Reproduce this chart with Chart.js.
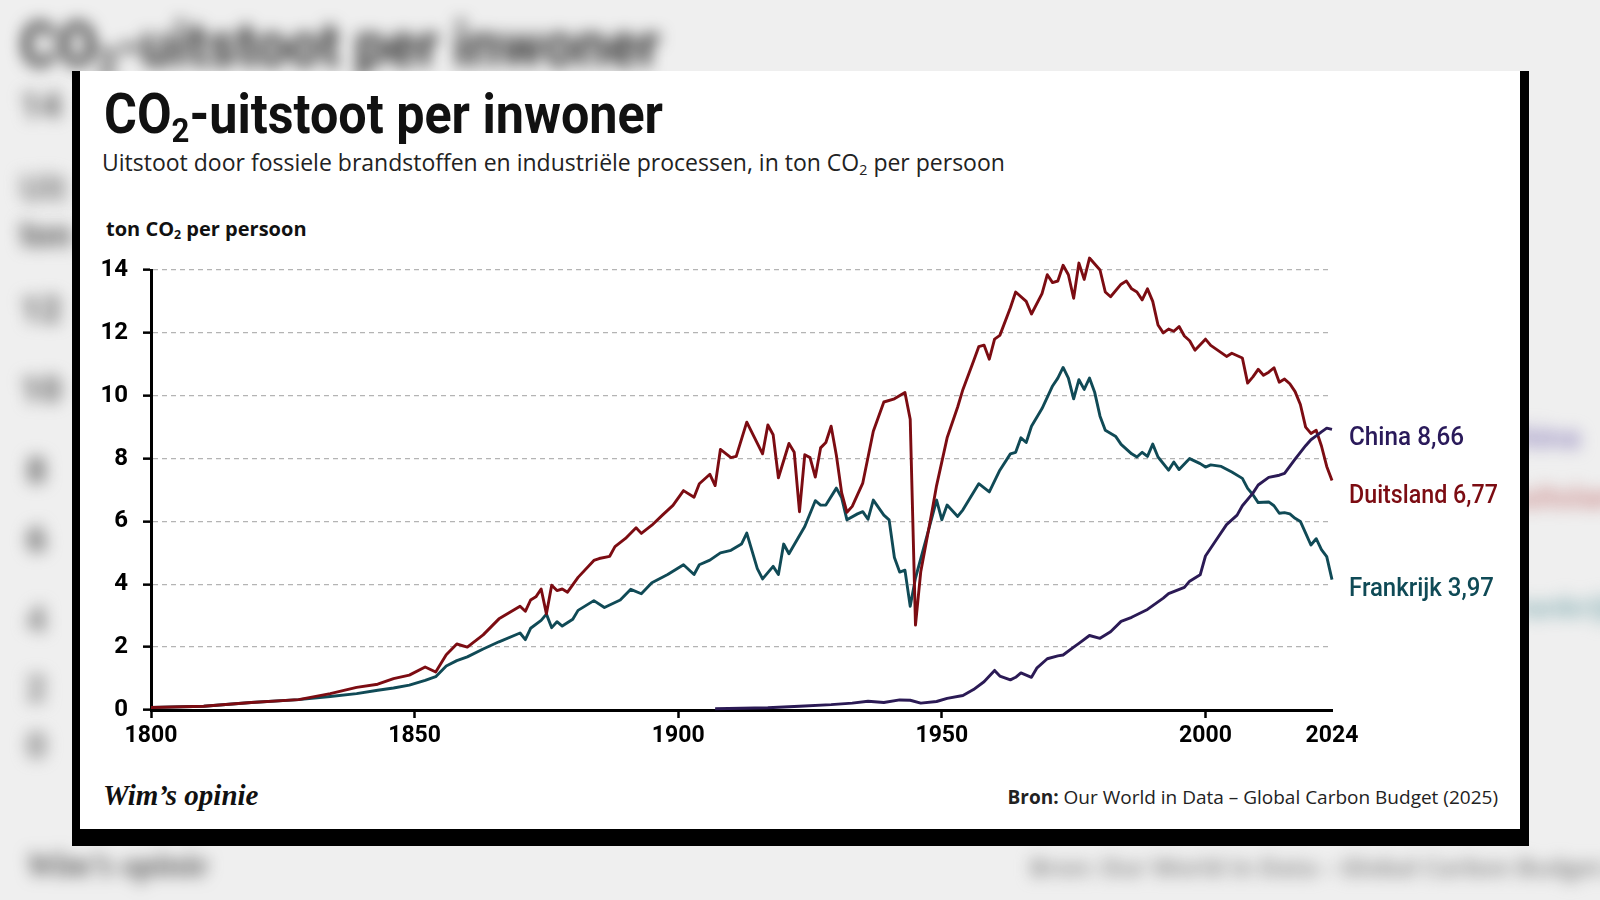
<!DOCTYPE html>
<html lang="nl">
<head>
<meta charset="utf-8">
<title>CO2-uitstoot per inwoner</title>
<script src="https://cdn.jsdelivr.net/npm/chart.js@4.4.1/dist/chart.umd.min.js"></script>
<style>
  html, body { margin: 0; padding: 0; }
  body {
    width: 1600px;
    height: 900px;
    position: relative;
    overflow: hidden;
    background: #efefef;
    font-family: "Open Sans", sans-serif;
    color: #111;
  }
  .blur { position: absolute; white-space: nowrap; filter: blur(8px); }
  .side { font-family: Roboto, sans-serif; font-weight: 900; font-size: 36px; line-height: 36px; color: #6f6f6f; left: 20px; }
  .card {
    position: absolute;
    left: 72px;
    top: 71px;
    width: 1440px;
    height: 758px;
    background: #fff;
    border-left: 8px solid #000;
    border-right: 9px solid #000;
    border-bottom: 17px solid #000;
  }
  .txt { position: absolute; white-space: nowrap; }
  .cond { font-family: Roboto, sans-serif; transform-origin: left top; }
  #title { left: 104px; top: 87px; font-size: 55px; line-height: 55px; font-weight: bold; }
  #title sub, #bgTitle sub, #axisTitle sub, #subtitle sub { font-size: 62%; vertical-align: -0.25em; line-height: 0; }
  #subtitle { left: 102px; top: 151px; font-size: 23px; line-height: 23px; color: #222; }
  #axisTitle { left: 106px; top: 219px; font-size: 20px; line-height: 20px; font-weight: 700; }
  .endLabel { font-family: Roboto, sans-serif; font-weight: 500; font-size: 25px; line-height: 25px; left: 1349px; transform-origin: left top; }
  #lblChina { top: 424px; color: #2a1a5a; }
  #lblGermany { top: 482px; color: #7c0c12; }
  #lblFrance { top: 575px; color: #0f4a56; }
  #brand { left: 103px; top: 781px; font-family: "Liberation Serif", serif; font-style: italic; font-weight: bold; font-size: 29px; line-height: 29px; }
  #source { right: 102px; top: 788px; font-size: 19px; line-height: 19px; color: #222; }
  #chartBox { position: absolute; left: 80px; top: 240px; width: 1292px; height: 530px; }
</style>
</head>
<body>

<!-- blurred backdrop: an enlarged, out-of-focus copy of the same graphic -->
<div id="bgTitle" class="blur cond" style="left:20px; top:14px; font-size:62px; line-height:62px; font-weight:bold; color:#333;">CO<sub>2</sub>-uitstoot per inwoner</div>
<div class="blur side" style="top:88px;">14</div>
<div class="blur side" style="top:171px; color:#8c8c8c;">Uit</div>
<div class="blur side" style="top:217px;">ton</div>
<div class="blur side" style="top:292px;">12</div>
<div class="blur side" style="top:372px;">10</div>
<div class="blur side" style="top:453px; left:26px;">8</div>
<div class="blur side" style="top:522px; left:26px;">6</div>
<div class="blur side" style="top:602px; left:26px; color:#858585;">4</div>
<div class="blur side" style="top:671px; left:26px; color:#858585;">2</div>
<div class="blur side" style="top:728px; left:26px; color:#858585;">0</div>
<div class="blur cond" style="left:1498px; top:418px; font-size:32px; font-weight:bold; color:#9a90c2;">China</div>
<div class="blur cond" style="left:1498px; top:478px; font-size:32px; font-weight:bold; color:#cf9696;">Duitsland</div>
<div class="blur cond" style="left:1498px; top:588px; font-size:32px; font-weight:bold; color:#96b9bd;">Frankrijk</div>
<div class="blur" style="left:26px; top:846px; font-family:'Liberation Serif',serif; font-style:italic; font-weight:bold; font-size:34px; color:#555;">Wim’s opinie</div>
<div class="blur" style="left:1030px; top:850px; font-size:24px; font-weight:700; color:#8e8e8e;">Bron: Our World in Data – Global Carbon Budget (2025)</div>

<div class="card"></div>

<div id="title" class="txt cond">CO<sub>2</sub>-uitstoot per inwoner</div>
<div id="subtitle" class="txt">Uitstoot door fossiele brandstoffen en industriële processen, in ton CO<sub>2</sub> per persoon</div>
<div id="axisTitle" class="txt">ton CO<sub>2</sub> per persoon</div>

<div id="chartBox"><canvas id="co2Chart"></canvas></div>

<div id="lblChina" class="txt endLabel">China 8,66</div>
<div id="lblGermany" class="txt endLabel">Duitsland 6,77</div>
<div id="lblFrance" class="txt endLabel">Frankrijk 3,97</div>

<div id="brand" class="txt">Wim’s opinie</div>
<div id="source" class="txt"><b>Bron:</b> Our World in Data – Global Carbon Budget (2025)</div>

<script>
// ====================================
// DATA (ton CO2 per persoon)
// ====================================
const germanyYears = [
  1800, 1810, 1819, 1828, 1834, 1839, 1843, 1846, 1849, 1852,
  1854, 1856, 1858, 1860, 1863, 1866, 1870, 1871, 1872, 1873,
  1874, 1875, 1876, 1877, 1878, 1879, 1881, 1884, 1885, 1887,
  1888, 1890, 1892, 1893, 1895, 1897, 1899, 1901, 1903, 1904,
  1906, 1907, 1908, 1910, 1911, 1913, 1916, 1917, 1918, 1919,
  1921, 1922, 1923, 1924, 1925, 1926, 1927, 1928, 1929, 1930,
  1931, 1932, 1933, 1935, 1937, 1939, 1941, 1943, 1944, 1945,
  1946, 1948, 1949, 1951, 1953, 1954, 1956, 1957, 1958, 1959,
  1960, 1961, 1963, 1964, 1966, 1967, 1969, 1970, 1971, 1972,
  1973, 1974, 1975, 1976, 1977, 1978, 1980, 1981, 1982, 1984,
  1985, 1986, 1987, 1988, 1989, 1990, 1991, 1992, 1993, 1994,
  1995, 1996, 1997, 1998, 2000, 2001, 2004, 2005, 2007, 2008,
  2009, 2010, 2011, 2012, 2013, 2014, 2015, 2016, 2017, 2018,
  2019, 2020, 2021, 2022, 2023, 2024
];
const germanyValues = [
  0.08, 0.12, 0.24, 0.33, 0.52, 0.72, 0.82, 1.0, 1.11, 1.37,
  1.21, 1.76, 2.1, 2.0, 2.39, 2.9, 3.3, 3.14, 3.5, 3.6,
  3.85, 3.06, 3.97, 3.8, 3.85, 3.75, 4.22, 4.76, 4.82, 4.89,
  5.2, 5.46, 5.8, 5.62, 5.88, 6.2, 6.51, 6.98, 6.77, 7.2,
  7.5, 7.14, 8.29, 8.03, 8.07, 9.16, 8.15, 9.07, 8.76, 7.39,
  8.48, 8.2, 6.31, 8.12, 8.03, 7.41, 8.34, 8.51, 9.03, 8.1,
  6.91, 6.29, 6.48, 7.22, 8.87, 9.8, 9.9, 10.1, 9.25, 2.7,
  4.4, 6.2, 7.14, 8.66, 9.64, 10.2, 11.1, 11.56, 11.61, 11.16,
  11.8, 11.92, 12.8, 13.3, 13.0, 12.6, 13.25, 13.85, 13.6, 13.65,
  14.15, 13.85, 13.1, 14.22, 13.7, 14.38, 14.0, 13.3, 13.15, 13.55,
  13.65, 13.4, 13.3, 13.05, 13.4, 13.0, 12.25, 12.0, 12.12, 12.05,
  12.2, 11.9, 11.75, 11.45, 11.8, 11.6, 11.25, 11.35, 11.2, 10.4,
  10.6, 10.84, 10.65, 10.75, 10.89, 10.43, 10.53, 10.38, 10.13, 9.72,
  9.0, 8.8, 8.9, 8.4, 7.75, 7.3
];

const franceYears = [
  1800, 1810, 1819, 1828, 1834, 1839, 1843, 1846, 1849, 1852,
  1854, 1856, 1858, 1860, 1863, 1866, 1870, 1871, 1872, 1874,
  1875, 1876, 1877, 1878, 1880, 1881, 1884, 1886, 1889, 1891,
  1893, 1895, 1898, 1901, 1903, 1904, 1906, 1908, 1910, 1912,
  1913, 1915, 1916, 1918, 1919, 1920, 1921, 1924, 1926, 1927,
  1928, 1930, 1931, 1932, 1934, 1935, 1936, 1937, 1939, 1940,
  1941, 1942, 1943, 1944, 1945, 1947, 1948, 1949, 1950, 1951,
  1953, 1954, 1957, 1959, 1961, 1963, 1964, 1965, 1966, 1967,
  1969, 1971, 1972, 1973, 1974, 1975, 1976, 1977, 1978, 1979,
  1980, 1981, 1983, 1984, 1986, 1987, 1988, 1989, 1990, 1991,
  1993, 1994, 1995, 1997, 1999, 2000, 2001, 2003, 2005, 2007,
  2008, 2009, 2010, 2012, 2013, 2014, 2015, 2016, 2017, 2018,
  2019, 2020, 2021, 2022, 2023, 2024
];
const franceValues = [
  0.08, 0.12, 0.24, 0.33, 0.43, 0.52, 0.63, 0.7, 0.79, 0.94,
  1.06, 1.4, 1.57, 1.69, 1.94, 2.17, 2.45, 2.24, 2.6, 2.85,
  3.05, 2.62, 2.81, 2.67, 2.89, 3.17, 3.48, 3.26, 3.5, 3.84,
  3.7, 4.05, 4.31, 4.62, 4.31, 4.62, 4.77, 5.0, 5.08, 5.28,
  5.63, 4.5, 4.17, 4.57, 4.31, 5.28, 4.97, 5.84, 6.66, 6.52,
  6.52, 7.06, 6.75, 6.05, 6.24, 6.31, 6.07, 6.68, 6.2, 6.05,
  4.85, 4.39, 4.45, 3.3, 4.2, 5.43, 6.05, 6.68, 6.05, 6.52,
  6.16, 6.37, 7.2, 6.94, 7.63, 8.15, 8.2, 8.66, 8.51, 9.03,
  9.59, 10.31, 10.56, 10.9, 10.56, 9.9, 10.51, 10.2, 10.56, 10.1,
  9.35, 8.9, 8.7, 8.45, 8.15, 8.05, 8.2, 8.07, 8.46, 8.05,
  7.63, 7.89, 7.65, 8.0, 7.84, 7.73, 7.8, 7.75, 7.57, 7.37,
  7.05, 6.85, 6.6, 6.62, 6.5, 6.26, 6.28, 6.24, 6.1, 6.0,
  5.63, 5.25, 5.45, 5.1, 4.88, 4.15
];

const chinaYears = [
  1907, 1917, 1923, 1929, 1933, 1936, 1939, 1942, 1944, 1946,
  1949, 1951, 1954, 1956, 1958, 1960, 1961, 1963, 1964, 1965,
  1967, 1968, 1970, 1972, 1973, 1975, 1976, 1978, 1980, 1982,
  1984, 1986, 1989, 1992, 1993, 1996, 1997, 1999, 2000, 2002,
  2004, 2006, 2007, 2009, 2010, 2012, 2014, 2015, 2017, 2019,
  2020, 2021, 2022, 2023, 2024
];
const chinaValues = [
  0.04, 0.07, 0.12, 0.17, 0.22, 0.28, 0.24, 0.32, 0.31, 0.22,
  0.27, 0.37, 0.46, 0.65, 0.9, 1.26, 1.08, 0.96, 1.04, 1.18,
  1.04, 1.33, 1.63, 1.72, 1.75, 2.0, 2.12, 2.37, 2.28, 2.49,
  2.82, 2.95, 3.2, 3.56, 3.7, 3.9, 4.1, 4.3, 4.9, 5.4,
  5.9, 6.2, 6.5, 6.9, 7.16, 7.4, 7.47, 7.53, 7.98, 8.41,
  8.6, 8.72, 8.85, 8.97, 8.93
];

const xTickYears = [1800, 1850, 1900, 1950, 2000, 2024];
const yTickValues = [0, 2, 4, 6, 8, 10, 12, 14];

// ====================================
// CONDENSED HEADINGS
// ====================================
// Roboto squeezed to the width of the condensed face in the original
function fitWidth(id, target) {
  const el = document.getElementById(id);
  el.style.transform = "none";
  const w = el.getBoundingClientRect().width;
  if (w > 0) el.style.transform = "scaleX(" + (target / w) + ")";
}

function fitHeadings() {
  fitWidth("title", 559);
  fitWidth("bgTitle", 640);
  fitWidth("lblChina", 115);
  fitWidth("lblGermany", 149);
  fitWidth("lblFrance", 145);
}

fitHeadings();
if (document.fonts) document.fonts.ready.then(fitHeadings);

// ====================================
// CHART
// ====================================
const tickFont = "Roboto, sans-serif";

function toPoints(years, values) {
  return years.map(function (year, i) {
    return { x: year, y: values[i] };
  });
}

function lineSet(label, years, values, color) {
  return {
    label: label,
    data: toPoints(years, values),
    borderColor: color,
    borderWidth: 2.9,
    pointRadius: 0,
    tension: 0,
    fill: false,
    clip: false,
    borderJoinStyle: "round",
  };
}

const ctx = document.getElementById("co2Chart").getContext("2d");

new Chart(ctx, {
  type: "line",
  data: {
    datasets: [
      lineSet("China", chinaYears, chinaValues, "#2b1a55"),
      lineSet("Duitsland", germanyYears, germanyValues, "#7c0c12"),
      lineSet("Frankrijk", franceYears, franceValues, "#104a56"),
    ],
  },
  options: {
    responsive: true,
    maintainAspectRatio: false,
    animation: false,
    layout: { padding: { top: 30, right: 40, bottom: 0, left: 0 } },
    plugins: {
      legend: { display: false },
      tooltip: { enabled: false },
    },
    scales: {
      x: {
        type: "linear",
        min: 1800,
        max: 2024,
        afterBuildTicks: function (scale) {
          scale.ticks = xTickYears.map(function (v) { return { value: v }; });
        },
        afterFit: function (scale) { scale.height = 60; },
        ticks: {
          color: "#000",
          padding: 4,
          maxRotation: 0,
          font: { family: tickFont, size: 23, weight: "bold" },
          callback: function (value) { return String(value); },
        },
        grid: {
          drawOnChartArea: false,
          drawTicks: true,
          tickLength: 8,
          tickWidth: 2.5,
          tickColor: function (c) {
            return c.tick && c.tick.value === 2024 ? "rgba(0,0,0,0)" : "#000";
          },
        },
        border: { display: true, color: "#000", width: 3 },
      },
      y: {
        min: 0,
        max: 14,
        afterBuildTicks: function (scale) {
          scale.ticks = yTickValues.map(function (v) { return { value: v }; });
        },
        afterFit: function (scale) { scale.width = 71; },
        ticks: {
          color: "#000",
          padding: 15,
          font: { family: tickFont, size: 24, weight: "bold" },
        },
        grid: {
          color: function (c) {
            return c.tick && c.tick.value === 0 ? "rgba(0,0,0,0)" : "#b4b4b4";
          },
          lineWidth: 1.3,
          drawTicks: true,
          tickLength: 8,
          tickWidth: 2.5,
          tickColor: "#000",
        },
        border: { display: true, color: "#000", width: 3, dash: [5, 4] },
      },
    },
  },
});
</script>
</body>
</html>
